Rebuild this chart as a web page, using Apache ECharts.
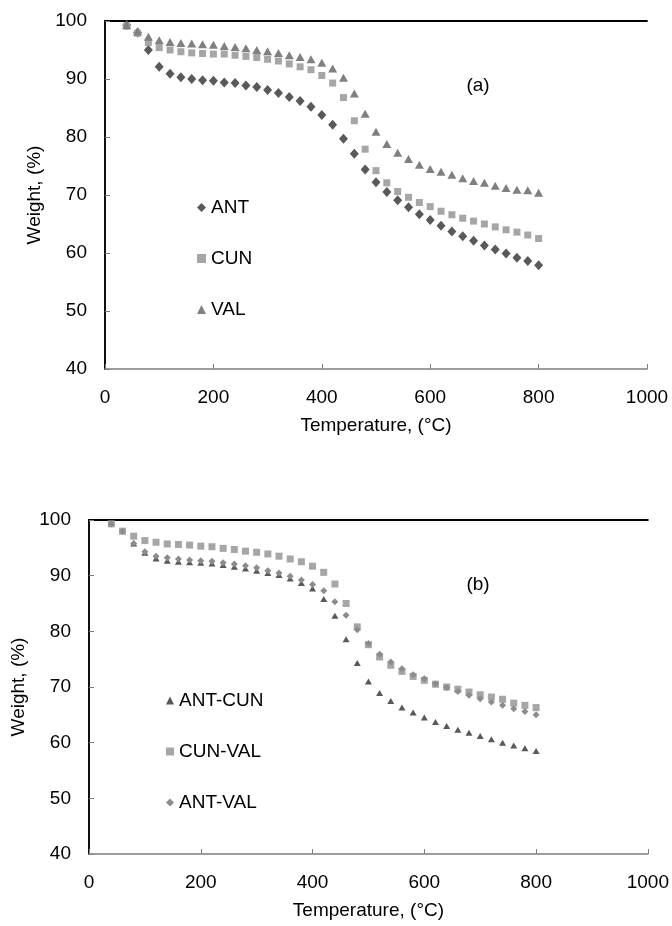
<!DOCTYPE html>
<html>
<head>
<meta charset="utf-8">
<script src="https://cdn.jsdelivr.net/npm/echarts@6/dist/echarts.min.js"></script>
<style>
html,body{margin:0;padding:0;background:#fff;}
#c{width:672px;height:926px;}
</style>
</head>
<body>
<div id="c"></div>
<script>
// Temperature (°C) for every sample point
const temperature = [40,60,80,100,120,140,160,180,200,220,240,260,280,300,320,340,360,380,400,420,440,460,480,500,520,540,560,580,600,620,640,660,680,700,720,740,760,780,800];

// Panel (a)
const ANT = [99.3,98.0,95.0,92.1,90.9,90.3,90.0,89.8,89.7,89.4,89.3,88.9,88.6,88.1,87.6,86.9,86.2,85.2,83.8,82.1,79.7,77.1,74.4,72.2,70.5,69.1,67.9,66.7,65.7,64.7,63.7,62.9,62.1,61.3,60.6,59.9,59.2,58.6,57.9];
const CUN = [99.1,97.9,96.3,95.4,95.0,94.7,94.5,94.4,94.3,94.3,94.1,93.9,93.7,93.4,93.1,92.6,92.1,91.6,90.6,89.3,86.8,82.8,77.9,74.2,72.1,70.6,69.6,68.7,68.0,67.2,66.6,66.0,65.5,65.0,64.5,64.0,63.6,63.1,62.5];
const VAL = [99.3,98.2,97.3,96.7,96.4,96.2,96.1,96.0,95.9,95.7,95.5,95.3,95.0,94.8,94.5,94.1,93.8,93.4,92.8,91.8,90.2,87.5,84.0,80.9,78.8,77.3,76.2,75.2,74.5,74.0,73.5,72.9,72.4,72.1,71.6,71.2,70.9,70.8,70.4];

// Panel (b)
const ANT_CUN = [99.3,98.0,95.8,94.1,93.1,92.7,92.5,92.4,92.3,92.2,91.9,91.6,91.3,90.9,90.5,90.1,89.5,88.7,87.7,85.8,82.8,78.6,74.3,71.0,68.9,67.5,66.3,65.4,64.5,63.7,63.0,62.3,61.8,61.2,60.6,60.0,59.5,59.0,58.5];
const CUN_VAL = [99.3,98.0,97.1,96.3,96.0,95.7,95.6,95.5,95.3,95.2,94.9,94.7,94.4,94.2,93.9,93.5,93.0,92.5,91.7,90.6,88.5,85.0,80.8,77.6,75.4,73.9,72.8,71.9,71.2,70.5,70.0,69.6,69.1,68.6,68.2,67.8,67.1,66.7,66.3];
const ANT_VAL = [99.3,98.0,95.8,94.3,93.5,93.2,93.0,92.8,92.7,92.6,92.3,92.1,91.8,91.4,90.9,90.5,89.9,89.2,88.4,87.3,85.3,82.9,80.3,77.8,75.9,74.5,73.3,72.2,71.5,70.6,69.9,69.2,68.5,67.9,67.3,66.7,66.1,65.6,65.0];

const xTicks = [0,200,400,600,800,1000];
const yTicks = [40,50,60,70,80,90,100];
const xName = 'Temperature, (°C)';
const yName = 'Weight, (%)';
const panelLabels = ['(a)','(b)'];

const FONT = 'Liberation Sans';
const pair = arr => temperature.map((t,i)=>[t,arr[i]]);

function xBottom(grid){
  return {type:'value',gridIndex:grid,position:'bottom',min:xTicks[0],max:xTicks[xTicks.length-1],interval:200,
    axisLine:{show:true,lineStyle:{color:'#7f7f7f',width:1.5}},
    axisTick:{show:true,inside:true,length:5,lineStyle:{color:'#7f7f7f',width:1}},
    axisLabel:{color:'#000',fontSize:19,fontFamily:FONT,margin:19,formatter:v=>String(v)},
    splitLine:{show:false},
    name:xName,nameLocation:'middle',nameGap:47,nameTextStyle:{color:'#000',fontSize:19,fontFamily:FONT}};
}
function xTop(grid){
  return {type:'value',gridIndex:grid,position:'top',min:0,max:1000,
    axisLine:{show:true,lineStyle:{color:'#000',width:1.8}},axisTick:{show:false},axisLabel:{show:false},splitLine:{show:false}};
}
function yLeft(grid){
  return {type:'value',gridIndex:grid,position:'left',min:yTicks[0],max:yTicks[yTicks.length-1],interval:10,
    axisLine:{show:true,lineStyle:{color:'#7f7f7f',width:1.5}},
    axisTick:{show:true,inside:true,length:5,lineStyle:{color:'#7f7f7f',width:1}},
    axisLabel:{color:'#000',fontSize:19,fontFamily:FONT,margin:18,formatter:v=>String(v)},
    splitLine:{show:false},
    name:yName,nameLocation:'middle',nameGap:61,nameRotate:90,nameTextStyle:{color:'#000',fontSize:19,fontFamily:FONT}};
}
function yRight(grid){
  return {type:'value',gridIndex:grid,position:'right',min:40,max:100,
    axisLine:{show:true,lineStyle:{color:'#000',width:1.8}},axisTick:{show:false},axisLabel:{show:false},splitLine:{show:false}};
}
function sc(name,data,xi,yi,symbol,size,color){
  return {name,type:'scatter',xAxisIndex:xi,yAxisIndex:yi,data:pair(data),symbol,symbolSize:size,
    itemStyle:{color:color,opacity:1},emphasis:{disabled:true},z:3};
}

const chart = echarts.init(document.getElementById('c'),null,{renderer:'canvas'});
chart.setOption({
  animation:false,
  backgroundColor:'#fff',
  textStyle:{fontFamily:FONT},
  title:[
    {text:panelLabels[0],left:473,top:71,textAlign:'center',textStyle:{fontSize:19,fontWeight:'normal',color:'#000',fontFamily:FONT}},
    {text:panelLabels[1],left:473,top:570,textAlign:'center',textStyle:{fontSize:19,fontWeight:'normal',color:'#000',fontFamily:FONT}}
  ],
  grid:[
    {left:105,top:21,width:542,height:348},
    {left:89,top:520,width:560,height:334}
  ],
  xAxis:[xBottom(0),xTop(0),xBottom(1),xTop(1)],
  yAxis:[yLeft(0),yRight(0),yLeft(1),yRight(1)],
  legend:[
    {data:['ANT','CUN','VAL'],orient:'vertical',left:192,top:193,itemWidth:9,itemHeight:9,itemGap:32,
     textStyle:{fontSize:19,color:'#000',fontFamily:FONT},selectedMode:false},
    {data:['ANT-CUN','CUN-VAL','ANT-VAL'],orient:'vertical',left:161,top:686,itemWidth:8,itemHeight:8,itemGap:32,
     textStyle:{fontSize:19,color:'#000',fontFamily:FONT},selectedMode:false}
  ],
  series:[
    sc('ANT',ANT,0,0,'diamond',[9,10],'#595959'),
    sc('CUN',CUN,0,0,'rect',[7,7],'#a6a6a6'),
    sc('VAL',VAL,0,0,'triangle',[9,8],'#808080'),
    sc('ANT-CUN',ANT_CUN,2,2,'triangle',[7,6],'#595959'),
    sc('CUN-VAL',CUN_VAL,2,2,'rect',[7,7],'#a6a6a6'),
    sc('ANT-VAL',ANT_VAL,2,2,'diamond',[7,7],'#8c8c8c')
  ]
});
</script>
</body>
</html>
